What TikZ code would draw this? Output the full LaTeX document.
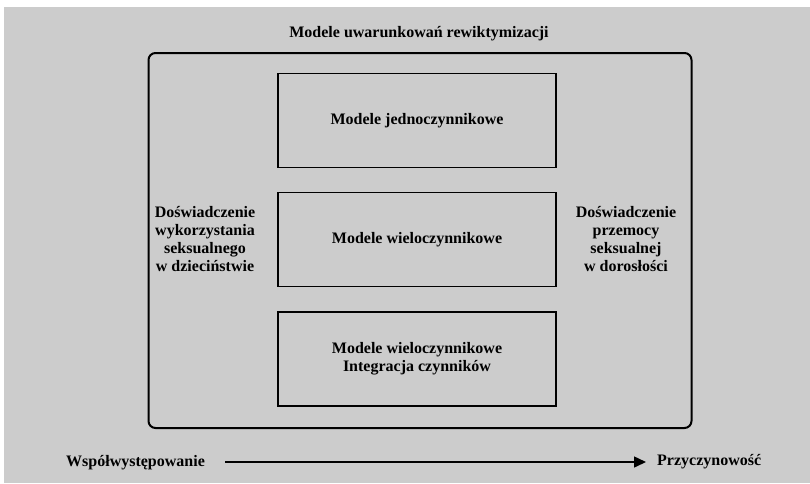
\documentclass[tikz,border=0pt]{standalone}
\usepackage{fontspec}
\setmainfont{Liberation Serif}
\usetikzlibrary{arrows.meta}
\definecolor{bggray}{RGB}{204,204,204}
\begin{document}
\begin{tikzpicture}[x=1pt,y=-1pt,
  txt/.style={font=\bfseries\fontsize{16}{18}\selectfont, inner sep=0pt, align=center},
  side/.style={font=\bfseries\fontsize{16}{18.3}\selectfont, inner sep=0pt, align=center},
  inbox/.style={draw=black, line width=1.5pt, minimum width=278pt, minimum height=94pt, inner sep=0pt, font=\bfseries\fontsize{16}{18}\selectfont, align=center},
]
\useasboundingbox (0,0) rectangle (810,483);
\fill[white] (0,0) rectangle (810,483);
\fill[bggray] (4,7) rectangle (810,483);
\node[txt] (title) at (419,34) {Modele uwarunkowań rewiktymizacji};
\node[draw=black, line width=2pt, rounded corners=7pt, minimum width=543pt, minimum height=375pt, inner sep=0pt] (outer) at (420,240.5) {};
\node[inbox] (m1) at (417,120.5) {Modele jednoczynnikowe};
\node[inbox] (m2) at (417,239.5) {Modele wieloczynnikowe};
\node[inbox] (m3) at (417,359) {Modele wieloczynnikowe\\Integracja czynników};
\node[side] (left) at (205,239) {Doświadczenie\\wykorzystania\\seksualnego\\w dzieciństwie};
\node[side] (right) at (626,239) {Doświadczenie\\przemocy\\seksualnej\\w dorosłości};
\node[txt, anchor=west] (co) at (66,463) {Współwystępowanie};
\node[txt, anchor=west] (cause) at (657,462) {Przyczynowość};
\coordinate (a0) at (225,462);
\coordinate (a1) at (646,462);
\draw[line width=1.5pt, -{Triangle[length=12pt,width=11pt]}] (a0) -- (a1);
\end{tikzpicture}
\end{document}
